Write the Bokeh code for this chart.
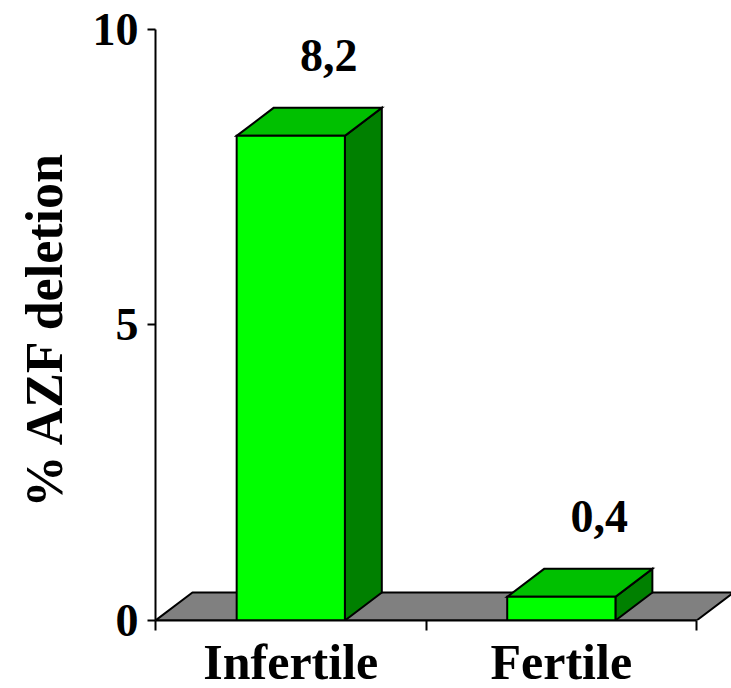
from bokeh.plotting import figure
from bokeh.models import FixedTicker, Range1d, Title
from bokeh.embed import file_html
from bokeh.resources import INLINE
from bokeh.core.properties import value

# ---- data ----
categories = ["Infertile", "Fertile"]
values = [8.2, 0.4]
value_labels = ["8,2", "0,4"]
y_ticks = [0, 5, 10]
y_label = "% AZF deletion"

# ---- style / geometry ----
FONT = "Liberation Serif"
FRONT = "#00FF00"
TOP = "#00C000"
SIDE = "#008000"
FLOOR = "#808080"
BAR_W = 0.4          # fraction of category slot
DX = 0.1365          # 3D depth, x data units
DY = 0.474           # 3D depth, y data units
LABEL_DX = 0.14
LABEL_GAP = 0.88

n = len(categories)
centers = [i + 0.5 for i in range(n)]

p = figure(width=731, height=692, output_backend="svg", toolbar_location=None,
           x_range=Range1d(0, n + 0.129), y_range=Range1d(0, 10.49),
           min_border_left=154, min_border_right=0, min_border_top=0,
           min_border_bottom=10,
           styles={"margin-bottom": "-4px"})
p.grid.visible = False
p.outline_line_color = None
p.background_fill_color = "white"

# floor
p.patch([0, n, n + DX, DX], [0, 0, DY, DY], fill_color=FLOOR,
        line_color="black", line_width=2)

for c, v in zip(centers, values):
    a, b = c - BAR_W / 2, c + BAR_W / 2
    p.patch([b, b + DX, b + DX, b], [0, DY, v + DY, v], fill_color=SIDE,
            line_color="black", line_width=2, line_join="miter")
    p.patch([a, b, b + DX, a + DX], [v, v, v + DY, v + DY], fill_color=TOP,
            line_color="black", line_width=2, line_join="miter")
    p.quad(left=a, right=b, bottom=0, top=v, fill_color=FRONT,
           line_color="black", line_width=2, line_join="miter")

p.text(x=[c + LABEL_DX for c in centers],
       y=[v + DY + LABEL_GAP for v in values],
       text=value_labels, text_align="center", text_baseline="alphabetic",
       text_font=value(FONT), text_font_style="bold", text_font_size="46px",
       text_color="black")

# x axis
xa = p.xaxis[0]
xa.ticker = FixedTicker(ticks=centers, minor_ticks=list(range(n + 1)))
xa.major_label_overrides = {c: lab for c, lab in zip(centers, categories)}
xa.bounds = (0, n)
xa.major_tick_line_color = None
xa.minor_tick_out = 10
xa.minor_tick_in = 0
xa.minor_tick_line_color = "black"
xa.minor_tick_line_width = 2
xa.axis_line_width = 2
xa.axis_line_color = "black"
xa.major_label_standoff = 3
xa.major_label_text_font = FONT
xa.major_label_text_font_style = "bold"
xa.major_label_text_font_size = "50px"
xa.major_label_text_color = "black"

# y axis
ya = p.yaxis[0]
ya.ticker = FixedTicker(ticks=y_ticks)
ya.bounds = (0, 10)
ya.minor_tick_line_color = None
ya.major_tick_out = 8
ya.major_tick_in = 0
ya.major_tick_line_width = 2
ya.axis_line_width = 2
ya.major_label_standoff = 9
ya.major_label_text_font = FONT
ya.major_label_text_font_style = "bold"
ya.major_label_text_font_size = "46px"
ya.major_label_text_color = "black"

# y axis title (side title so it can be placed along the axis like the original)
yt = Title(text=y_label, align="left", vertical_align="top", offset=113,
           standoff=30, text_font=FONT, text_font_style="bold",
           text_font_size="52px", text_color="black")
p.add_layout(yt, "left")

open("out.html", "w").write(file_html(p, INLINE))
